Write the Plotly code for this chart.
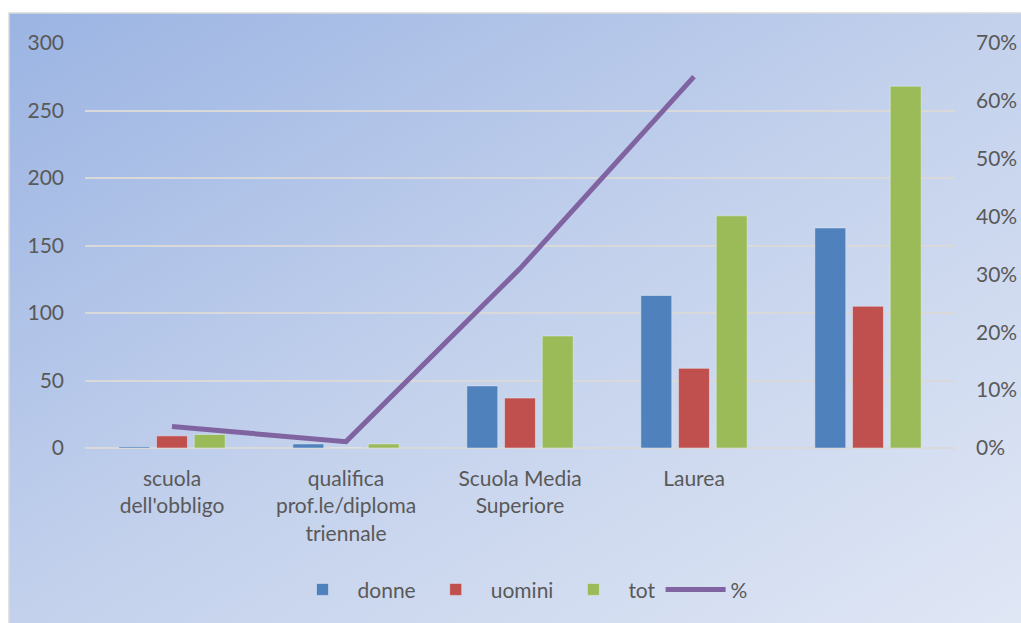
import base64
import plotly.graph_objects as go

categorie = ["scuola<br>dell'obbligo", "qualifica<br>prof.le/diploma<br>triennale",
             "Scuola Media<br>Superiore", "Laurea", " "]
donne = [1, 3, 46, 113, 163]
uomini = [9, 0, 37, 59, 105]
tot = [10, 3, 83, 172, 268]
perc = [0.037, 0.011, 0.31, 0.642, None]

font_txt = dict(family="Lato, Open Sans, sans-serif", size=21, color="#595959")

# sfondo sfumato come in Excel
svg = ('<svg xmlns="http://www.w3.org/2000/svg" width="100" height="100" preserveAspectRatio="none">'
       '<defs><linearGradient id="g" x1="0" y1="0" x2="1" y2="1">'
       '<stop offset="0" stop-color="#9bb4e3"/><stop offset="0.5" stop-color="#c3d1ec"/>'
       '<stop offset="1" stop-color="#e0e7f5"/></linearGradient></defs>'
       '<rect width="100" height="100" fill="url(#g)"/></svg>')
bg_src = "data:image/svg+xml;base64," + base64.b64encode(svg.encode()).decode()

W, H = 1021, 623
ml, mr, mt, mb = 85, 66, 43, 175
pw, ph = W - ml - mr, H - mt - mb

fig = go.Figure()
fig.add_trace(go.Bar(x=categorie, y=donne, name="donne", marker_color="#4f81bd"))
fig.add_trace(go.Bar(x=categorie, y=uomini, name="uomini", marker_color="#c0504d"))
fig.add_trace(go.Bar(x=categorie, y=tot, name="tot", marker_color="#9bbb59"))
fig.add_trace(go.Scatter(x=categorie, y=perc, name="%", mode="lines", yaxis="y2",
                         line=dict(color="#8064a2", width=5), connectgaps=False))

x0 = (9 - ml) / pw
x1 = (W + 4 - ml) / pw
y0 = (H - mb - 13) / ph
y1 = (H - mb - H - 4) / ph

fig.update_layout(
    width=W, height=H,
    margin=dict(l=ml, r=mr, t=mt, b=mb, autoexpand=False),
    paper_bgcolor="white", plot_bgcolor="rgba(0,0,0,0)",
    font=font_txt,
    barmode="group", bargap=0.35, bargroupgap=0.18,
    images=[dict(source=bg_src, xref="paper", yref="paper", x=x0, y=y0,
                 sizex=x1 - x0, sizey=y0 - y1, xanchor="left", yanchor="top",
                 sizing="stretch", layer="below")],
    shapes=[dict(type="rect", xref="paper", yref="paper", x0=x0, x1=x1, y0=y1, y1=y0,
                 line=dict(color="#d9d9d9", width=1.5), fillcolor="rgba(0,0,0,0)", layer="below")],
    xaxis=dict(showgrid=False, ticks="", showline=False, tickfont=font_txt, ticklabelstandoff=16,
               automargin=False),
    yaxis=dict(range=[0, 300], dtick=50, showgrid=True, gridcolor="#d9d9d9", gridwidth=2,
               zeroline=True, zerolinecolor="#d9d9d9", zerolinewidth=2, automargin=False,
               showline=False, ticks="", tickfont=font_txt, ticklabelstandoff=20),
    yaxis2=dict(range=[0, 0.7], dtick=0.1, tickformat=".0%", overlaying="y", side="right",
                showgrid=False, zeroline=False, showline=False, ticks="", tickfont=font_txt,
                ticklabelstandoff=20, automargin=False),
    legend=dict(orientation="h", x=0.5, xanchor="center", y=-0.35, yanchor="middle",
                font=font_txt, bgcolor="rgba(0,0,0,0)", itemwidth=60, traceorder="normal"),
)

fig.write_html("out.html", config={"displayModeBar": False},
               post_script="document.documentElement.style.overflow='hidden';"
                           "document.body.style.margin='0';document.body.style.overflow='hidden';")
